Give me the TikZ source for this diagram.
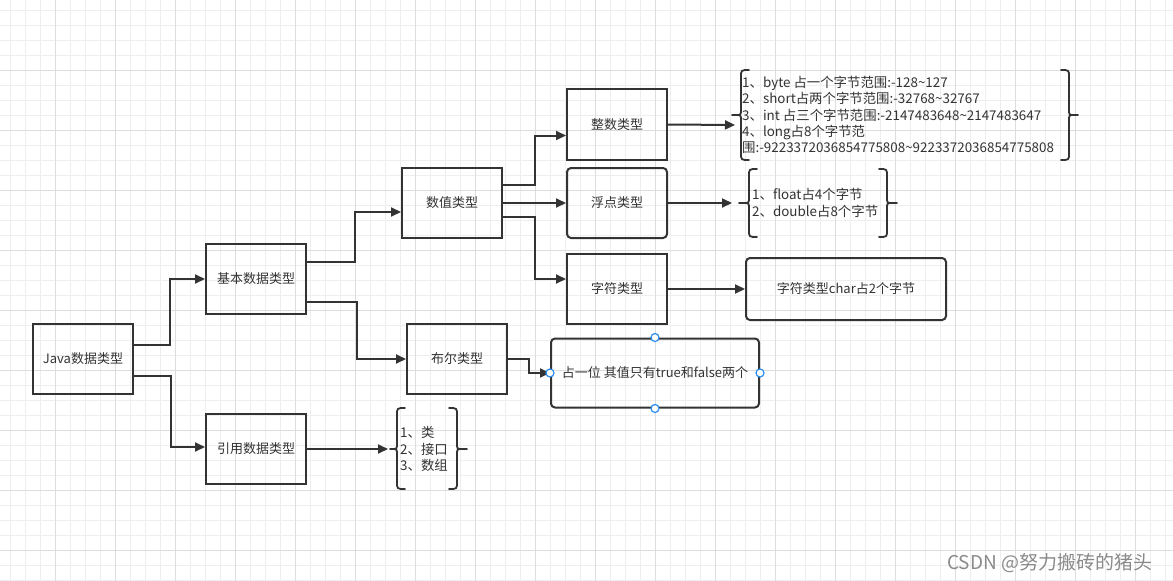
\documentclass[tikz,border=0pt]{standalone}
\usepackage{fontspec}
\setmainfont{Noto Sans CJK SC}
\usetikzlibrary{arrows.meta}
\definecolor{ink}{HTML}{333333}
\definecolor{gridminor}{HTML}{EEEEEE}
\definecolor{gridmajor}{HTML}{DDDDDD}
\definecolor{handleblue}{HTML}{2A8CF0}
\definecolor{wmgray}{HTML}{8A8A8A}
\newcommand{\mylbr}[5]{% x, top, bottom, mid, tip x
  \draw[bracestyle] (#1+8,#2) .. controls (#1,#2) .. (#1,#2+7) -- (#1,#4-6) .. controls (#1,#4) .. (#1-5,#4) -- (#5,#4) -- (#1-5,#4) .. controls (#1,#4) .. (#1,#4+6) -- (#1,#3-7) .. controls (#1,#3) .. (#1+8,#3);}
\newcommand{\myrbr}[5]{% x, top, bottom, mid, tip x
  \draw[bracestyle] (#1-8,#2) .. controls (#1,#2) .. (#1,#2+7) -- (#1,#4-6) .. controls (#1,#4) .. (#1+5,#4) -- (#5,#4) -- (#1+5,#4) .. controls (#1,#4) .. (#1,#4+6) -- (#1,#3-7) .. controls (#1,#3) .. (#1-8,#3);}
\begin{document}
\begin{tikzpicture}[x=1pt,y=-1pt,
  box/.style={draw=ink, line width=2pt, minimum width=100pt, minimum height=70pt, inner sep=0pt, text=ink, font=\fontsize{13}{16}\selectfont},
  rbox/.style={box, rounded corners=4pt},
  arr/.style={draw=ink, line width=2pt, -{Triangle[length=10pt,width=9pt]}},
  bracestyle/.style={draw=ink, line width=1.8pt, line cap=round, line join=round},
  txt/.style={text=ink, font=\fontsize{13.4}{16.3}\selectfont, align=left, inner sep=0pt, anchor=west},
  handle/.style={circle, draw=handleblue, fill=white, line width=1.2pt, minimum size=8pt, inner sep=0pt}
]
\useasboundingbox (0,0) rectangle (1173,581);
\fill[white] (0,0) rectangle (1173,581);
% grid
\foreach \x in {10,25,...,1170} \draw[gridminor, line width=1pt] (\x,0) -- (\x,581);
\foreach \y in {10,25,...,580} \draw[gridminor, line width=1pt] (0,\y) -- (1173,\y);
\foreach \x in {55,115,...,1135} \draw[gridmajor, line width=1pt] (\x,0) -- (\x,581);
\foreach \y in {70,130,...,550} \draw[gridmajor, line width=1pt] (0,\y) -- (1173,\y);

% boxes
\node[box] (java) at (83,359) {Java数据类型};
\node[box] (basic) at (256,279) {基本数据类型};
\node[box] (ref) at (256,449) {引用数据类型};
\node[box] (num) at (452,203) {数值类型};
\node[box] (bool) at (457,359) {布尔类型};
\node[box, minimum height=71pt] (int) at (617,124.5) {整数类型};
\node[rbox] (float) at (617,203) {浮点类型};
\node[box] (char) at (617,289) {字符类型};
\node[rbox, minimum width=200pt, minimum height=62pt] (charinfo) at (846,289) {字符类型char占2个字节};
\node[rbox, minimum width=208pt, minimum height=69pt] (boolinfo) at (655,373) {占一位 其值只有true和false两个};

% brace texts
\node[txt] (intinfo) at (742,115) {1、byte 占一个字节范围:-128\textasciitilde127\\2、short占两个字节范围:-32768\textasciitilde32767\\3、int 占三个字节范围:-2147483648\textasciitilde2147483647\\4、long占8个字节范\\围:-9223372036854775808\textasciitilde9223372036854775808};
\node[txt] (floatinfo) at (752,203) {1、float占4个字节\\2、double占8个字节};
\node[txt] (refinfo) at (400,449) {1、类\\2、接口\\3、数组};

% braces
\mylbr{741}{70}{160}{115}{732}
\myrbr{1069}{70}{160}{115}{1078}
\mylbr{749}{169}{237}{203}{739}
\myrbr{887}{169}{237}{203}{897}
\mylbr{397}{408}{489}{449}{390}
\myrbr{457}{408}{489}{449}{467}

% arrow end points at braces
\coordinate (intbr) at (735,125);
\coordinate (floatbr) at (732,203);
\coordinate (refbr) at (388,449);

% connectors
\draw[arr] ([yshift=14pt]java.east) -- ++(36,0) |- (basic.west);
\draw[arr] ([yshift=-17pt]java.east) -- ++(37,0) |- ([yshift=2pt]ref.west);
\draw[arr] ([yshift=17pt]basic.east) -- ++(48,0) |- ([yshift=-9pt]num.west);
\draw[arr] ([yshift=-23pt]basic.east) -- ++(50,0) |- (bool.west);
\draw[arr] (ref.east) -- (refbr);
\draw[arr] ([yshift=18pt]num.east) -- ++(32,0) |- ([yshift=-11pt]int.west);
\draw[arr] (num.east) -- (float.west);
\draw[arr] ([yshift=-14pt]num.east) -- ++(32,0) |- ([yshift=10pt]char.west);
\draw[arr] (char.east) -- (charinfo.west);
\draw[arr] (int.east) -- (intbr);
\draw[arr] (float.east) -- (floatbr);
\draw[arr] (bool.east) -- ++(21,0) |- (boolinfo.west);

% selection handles
\node[handle] (hn) at (boolinfo.north) {};
\node[handle] (hs) at (boolinfo.south) {};
\node[handle] (hw) at (boolinfo.west) {};
\node[handle] (he) at (boolinfo.east) {};

% watermark
\node[anchor=west, text=wmgray, font=\fontsize{19}{19}\selectfont, inner sep=0pt] (wm) at (947,563) {CSDN @努力搬砖的猪头};
\end{tikzpicture}
\end{document}
